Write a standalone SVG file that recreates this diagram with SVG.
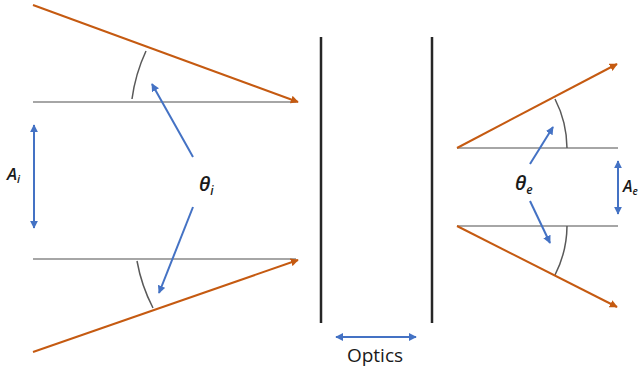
<svg xmlns="http://www.w3.org/2000/svg" width="641" height="367" viewBox="0 0 641 367">
<defs>
<marker id="ho" viewBox="0 0 10 10" refX="9" refY="5" markerWidth="4" markerHeight="4" orient="auto-start-reverse" markerUnits="strokeWidth"><path d="M0,0 L10,5 L0,10 z" fill="#C55A11"/></marker>
<marker id="hb" viewBox="0 0 10 10" refX="9" refY="5" markerWidth="4" markerHeight="4" orient="auto-start-reverse" markerUnits="strokeWidth"><path d="M0,0 L10,5 L0,10 z" fill="#4472C4"/></marker>
<style>
.ray{stroke:#C55A11;stroke-width:2;fill:none;marker-end:url(#ho)}
.axis{stroke:#A6A6A6;stroke-width:2;fill:none}
.arc{stroke:#595959;stroke-width:1.5;fill:none}
.ptr{stroke:#4472C4;stroke-width:2;fill:none;marker-end:url(#hb)}
.dbl{stroke:#4472C4;stroke-width:2;fill:none;marker-end:url(#hb);marker-start:url(#hb)}
.wall{stroke:#262626;stroke-width:2.5;fill:none}
.lbl{font-family:"Open Sans","Liberation Sans",sans-serif;fill:#1a1a1a}
.it{font-style:italic;font-weight:600}
</style>
</defs>
<g id="optics">
<line class="wall" x1="321" y1="37" x2="321" y2="323"/>
<line class="wall" x1="432" y1="37" x2="432" y2="323"/>
<line class="dbl" x1="336" y1="337" x2="416" y2="337"/>
<text class="lbl" x="375" y="362" font-size="19" text-anchor="middle">Optics</text>
</g>
<g id="input">
<line class="axis" x1="33" y1="102" x2="296" y2="102"/>
<line class="axis" x1="33" y1="259" x2="296" y2="259"/>
<path class="arc" d="M132,99 A166,166 0 0 1 146,51"/>
<path class="arc" d="M137,261 A166,166 0 0 0 153,308"/>
</g>
<g id="output">
<line class="axis" x1="457" y1="148" x2="618" y2="148"/>
<line class="axis" x1="457" y1="226" x2="618" y2="226"/>
<path class="arc" d="M567,148 A110,110 0 0 0 555,99"/>
<path class="arc" d="M567,226 A110,110 0 0 1 555,275"/>
</g>
<g id="connectors">
<line class="ray" x1="33" y1="5" x2="298" y2="102"/>
<line class="ray" x1="33" y1="352" x2="298" y2="260"/>
<line class="ray" x1="457" y1="148" x2="617" y2="64"/>
<line class="ray" x1="457" y1="226" x2="617" y2="307"/>
<line class="ptr" x1="193" y1="157" x2="152" y2="84"/>
<line class="ptr" x1="193" y1="207" x2="159" y2="293"/>
<line class="ptr" x1="530" y1="164" x2="553" y2="127"/>
<line class="ptr" x1="530" y1="201" x2="550" y2="243"/>
<line class="dbl" x1="34" y1="125" x2="34" y2="228"/>
<line class="dbl" x1="618" y1="161" x2="618" y2="214"/>
</g>
<g id="labels">
<text class="lbl it" x="199" y="191" font-size="20">θ<tspan font-size="12" dy="4">i</tspan></text>
<text class="lbl it" x="7" y="180" font-size="17">A<tspan font-size="11" dy="3">i</tspan></text>
<text class="lbl it" x="515" y="190" font-size="20">θ<tspan font-size="12" dy="4">e</tspan></text>
<text class="lbl it" x="623" y="192" font-size="16">A<tspan font-size="10" dy="3">e</tspan></text>
</g>
</svg>
